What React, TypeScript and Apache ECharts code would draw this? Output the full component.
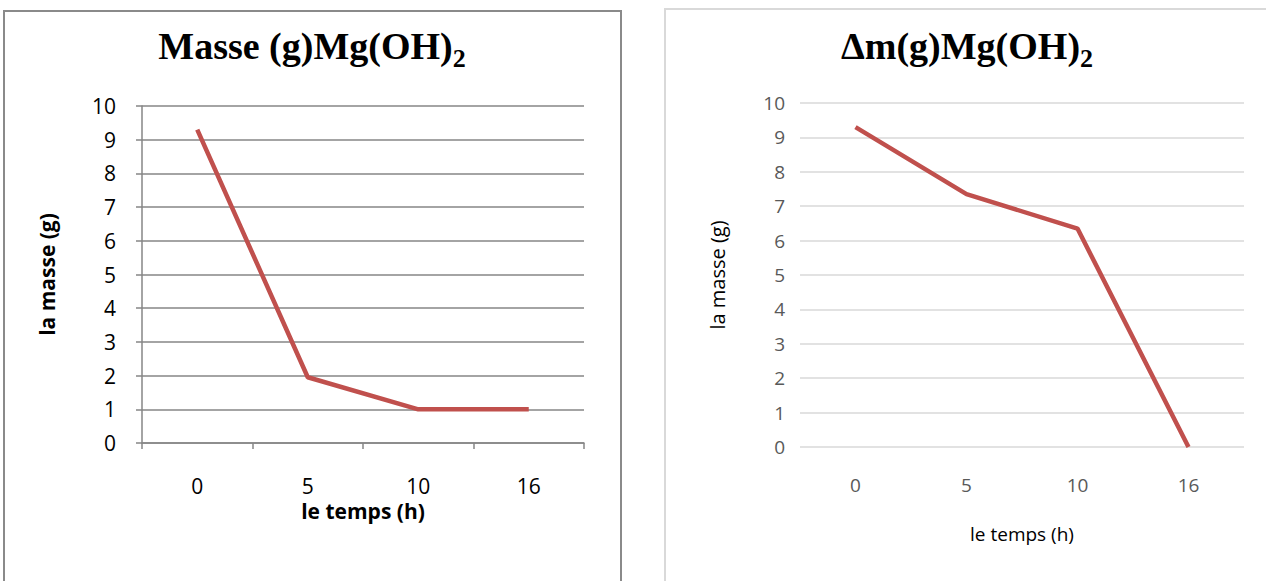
import React, { useEffect, useRef } from "react";
import * as echarts from "echarts";

const categories = ["0", "5", "10", "16"];
const masseValues = [9.3, 1.95, 1, 1];
const deltaValues = [9.3, 7.35, 6.35, 0];
const yTicks = { min: 0, max: 10, interval: 1 };

const lineColor = "#c0504d";
const sansFont = "Open Sans, Lato, sans-serif";

const titleRich = {
  a: { fontFamily: "Liberation Serif", fontWeight: "bold", fontSize: 38, color: "#000", lineHeight: 51, verticalAlign: "middle" },
  b: { fontFamily: "Liberation Serif", fontWeight: "bold", fontSize: 26, color: "#000", lineHeight: 26, verticalAlign: "bottom" },
};

export default function App() {
  const ref = useRef<HTMLDivElement>(null);
  useEffect(() => {
    const chart = echarts.init(ref.current!, null, { renderer: "svg" });
    chart.setOption({
      animation: false,
      backgroundColor: "#ffffff",
      title: [
        {
          text: "{a|Masse (g)Mg(OH)}{b|2}",
          left: 307,
          top: 15,
          textAlign: "center",
          textStyle: { rich: titleRich },
        },
        {
          text: "{a|Δm(g)Mg(OH)}{b|2}",
          left: 962,
          top: 15,
          textAlign: "center",
          textStyle: { rich: titleRich },
        },
      ],
      graphic: [
        { type: "rect", shape: { x: 4, y: 11, width: 617, height: 600 }, style: { fill: "none", stroke: "#8a8a8a", lineWidth: 2 }, silent: true },
        { type: "rect", shape: { x: 665, y: 9, width: 640, height: 600 }, style: { fill: "none", stroke: "#d9d9d9", lineWidth: 2 }, silent: true },
      ],
      grid: [
        { left: 142, top: 106, width: 442, height: 337 },
        { left: 800, top: 103, width: 444, height: 344 },
      ],
      xAxis: [
        {
          type: "category",
          gridIndex: 0,
          data: categories,
          boundaryGap: true,
          axisLine: { show: true, lineStyle: { color: "#868686", width: 1.5 } },
          axisTick: { show: true, length: 6, lineStyle: { color: "#868686", width: 1.5 } },
          axisLabel: { fontSize: 21, color: "#000", fontFamily: sansFont, margin: 32 },
          name: "le temps (h)",
          nameLocation: "middle",
          nameGap: 48,
          nameTextStyle: { fontSize: 21, fontWeight: "bold", color: "#000", fontFamily: sansFont },
        },
        {
          type: "category",
          gridIndex: 1,
          data: categories,
          boundaryGap: true,
          axisLine: { show: false },
          axisTick: { show: false },
          axisLabel: { fontSize: 19, color: "#595959", fontFamily: sansFont, margin: 28 },
          name: "le temps (h)",
          nameLocation: "middle",
          nameGap: 77,
          nameTextStyle: { fontSize: 19, color: "#000", fontFamily: sansFont },
        },
      ],
      yAxis: [
        {
          type: "value",
          gridIndex: 0,
          min: yTicks.min,
          max: yTicks.max,
          interval: yTicks.interval,
          axisLine: { show: true, lineStyle: { color: "#868686", width: 1.5 } },
          axisTick: { show: true, length: 6, lineStyle: { color: "#868686", width: 1.5 } },
          splitLine: { show: true, lineStyle: { color: "#868686", width: 1.5 } },
          axisLabel: { fontSize: 21, color: "#000", fontFamily: sansFont, margin: 26 },
          name: "la masse (g)",
          nameLocation: "middle",
          nameGap: 85,
          nameTextStyle: { fontSize: 21, fontWeight: "bold", color: "#000", fontFamily: sansFont },
        },
        {
          type: "value",
          gridIndex: 1,
          min: yTicks.min,
          max: yTicks.max,
          interval: yTicks.interval,
          axisLine: { show: false },
          axisTick: { show: false },
          splitLine: { show: true, lineStyle: { color: "#d9d9d9", width: 1.5 } },
          axisLabel: { fontSize: 19, color: "#595959", fontFamily: sansFont, margin: 15 },
          name: "la masse (g)",
          nameLocation: "middle",
          nameGap: 73,
          nameTextStyle: { fontSize: 20, color: "#000", fontFamily: sansFont },
        },
      ],
      series: [
        {
          type: "line",
          xAxisIndex: 0,
          yAxisIndex: 0,
          data: masseValues,
          showSymbol: false,
          symbol: "none",
          lineStyle: { color: lineColor, width: 4.5 },
          itemStyle: { color: lineColor },
        },
        {
          type: "line",
          xAxisIndex: 1,
          yAxisIndex: 1,
          data: deltaValues,
          showSymbol: false,
          symbol: "none",
          lineStyle: { color: lineColor, width: 4.5 },
          itemStyle: { color: lineColor },
        },
      ],
    });
    return () => chart.dispose();
  }, []);
  return (
    <div
      ref={ref}
      style={{ position: "absolute", left: 0, top: 0, width: 1266, height: 581 }}
    />
  );
}
